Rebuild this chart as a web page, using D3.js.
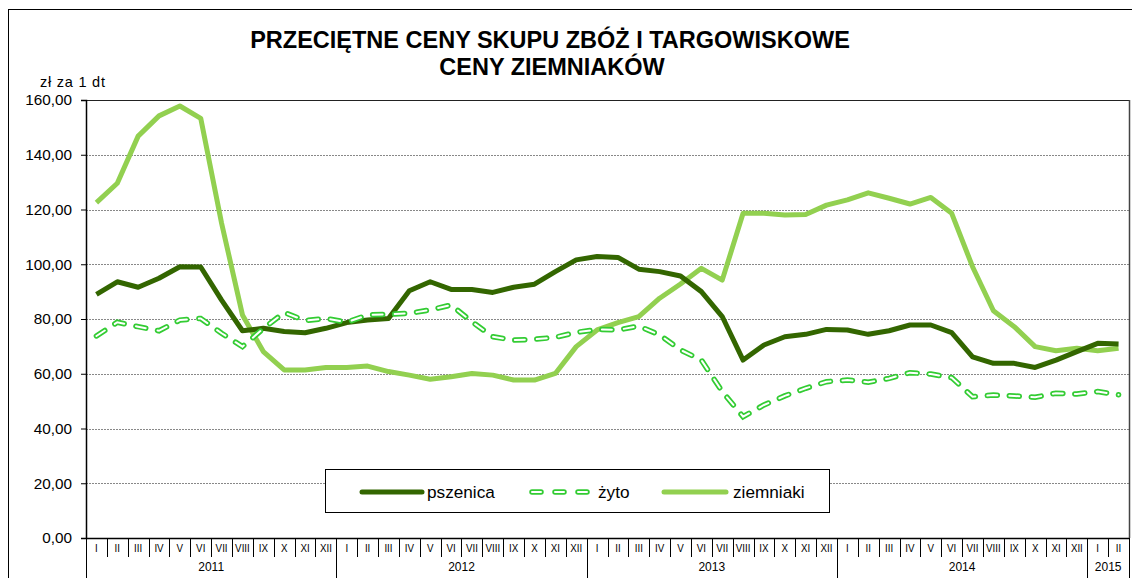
<!DOCTYPE html>
<html>
<head>
<meta charset="utf-8">
<script src="https://cdn.jsdelivr.net/npm/d3@7"></script>
<style>
  body { margin: 0; background: #fff; }
  text { font-family: "Liberation Sans", Arial, sans-serif; }
</style>
</head>
<body>
<script>
// miesiące i lata
const miesiace = ["I","II","III","IV","V","VI","VII","VIII","IX","X","XI","XII"];
const lata = [
  { rok: "2011", n: 12 },
  { rok: "2012", n: 12 },
  { rok: "2013", n: 12 },
  { rok: "2014", n: 12 },
  { rok: "2015", n: 2 }
];
const etykiety = lata.flatMap(l => miesiace.slice(0, l.n));

// ceny w zł za 1 dt
const pszenica = [
  89.0, 93.6, 91.6, 94.9, 99.1, 99.0, 86.9, 75.7, 76.6, 75.4, 75.0, 76.6,
  78.7, 79.6, 80.2, 90.3, 93.6, 90.8, 90.8, 89.7, 91.6, 92.7, 97.3, 101.6,
  102.8, 102.5, 98.2, 97.3, 95.7, 90.0, 80.9, 65.0, 70.5, 73.5, 74.4, 76.2,
  76.0, 74.4, 75.7, 77.8, 77.8, 75.0, 66.2, 63.8, 63.8, 62.3, 65.0, 68.1,
  71.1, 70.9
];
const zyto = [
  73.8, 78.8, 77.2, 75.7, 79.6, 80.2, 74.8, 69.9, 76.5, 82.4, 79.4, 80.2,
  78.8, 81.5, 81.7, 82.1, 83.3, 85.1, 79.0, 73.5, 72.3, 72.6, 73.3, 75.1,
  76.2, 76.0, 77.4, 74.2, 68.7, 65.0, 53.5, 44.3, 48.6, 51.9, 54.7, 57.1,
  57.7, 56.9, 58.3, 60.4, 59.9, 58.6, 51.6, 52.2, 51.9, 51.4, 52.9, 52.6,
  53.5, 52.3
];
const ziemniaki = [
  122.5, 129.6, 146.8, 154.2, 157.8, 153.3, 115.0, 81.5, 68.1, 61.4, 61.4, 62.3,
  62.3, 62.8, 60.8, 59.5, 58.0, 58.9, 60.1, 59.5, 57.7, 57.7, 60.1, 69.9,
  76.0, 78.7, 80.9, 87.6, 92.8, 98.5, 94.2, 118.6, 118.6, 118.0, 118.2, 121.6,
  123.5, 126.1, 124.1, 122.0, 124.4, 118.6, 99.1, 83.0, 77.2, 69.9, 68.4, 69.3,
  68.4, 69.3
];
const yTicks = [0, 20, 40, 60, 80, 100, 120, 140, 160];

const W = 1132, H = 578;
const m = { left: 86, right: 1129, top: 100, bottom: 538 };

const kolPszenica = "#336600";
const kolZyto = "#33cc33";
const kolZiemniaki = "#92d050";

const svg = d3.select("body").append("svg")
  .attr("width", W).attr("height", H);

// ramka całego wykresu
svg.append("rect")
  .attr("x", 8.5).attr("y", 9.5)
  .attr("width", 1140).attr("height", 600)
  .attr("fill", "none").attr("stroke", "#000").attr("stroke-width", 1);

const x = d3.scaleBand().domain(d3.range(etykiety.length)).range([m.left, m.right]);
const y = d3.scaleLinear().domain([0, 160]).range([m.bottom, m.top]);
const cx = i => x(i) + x.bandwidth() / 2;

// tytuł
svg.append("text")
  .attr("x", 550).attr("y", 48).attr("text-anchor", "middle")
  .attr("font-size", 23.5).attr("font-weight", "bold")
  .text("PRZECIĘTNE CENY SKUPU ZBÓŻ I TARGOWISKOWE");
svg.append("text")
  .attr("x", 552).attr("y", 75).attr("text-anchor", "middle")
  .attr("font-size", 23.5).attr("font-weight", "bold")
  .text("CENY ZIEMNIAKÓW");

svg.append("text")
  .attr("x", 40).attr("y", 87)
  .attr("font-size", 14.5)
  .attr("textLength", 65).attr("lengthAdjust", "spacing")
  .text("zł za 1 dt");

// siatka
svg.append("g")
  .selectAll("line")
  .data(yTicks.filter(d => d > 0 && d < 160))
  .join("line")
  .attr("x1", m.left).attr("x2", m.right)
  .attr("y1", d => Math.round(y(d)) + 0.5).attr("y2", d => Math.round(y(d)) + 0.5)
  .attr("stroke", "#888").attr("stroke-dasharray", "2,1");

// ramka obszaru wykresu
svg.append("line")
  .attr("x1", m.left).attr("x2", m.right).attr("y1", m.top + 0.5).attr("y2", m.top + 0.5)
  .attr("stroke", "#222");
svg.append("line")
  .attr("x1", m.right + 0.5).attr("x2", m.right + 0.5).attr("y1", m.top).attr("y2", m.bottom)
  .attr("stroke", "#444").attr("stroke-width", 1.5);

// oś Y
const osY = svg.append("g")
  .attr("transform", `translate(${m.left},0)`)
  .call(d3.axisLeft(y).tickValues(yTicks).tickSize(5).tickPadding(9)
    .tickFormat(d => d3.format(".2f")(d).replace(".", ",")));
osY.select(".domain").attr("stroke", "#000").attr("stroke-width", 1.5);
osY.selectAll("text").attr("font-size", 15.3).attr("font-family", "Liberation Sans, Arial, sans-serif").attr("fill", "#000");

// oś X
svg.append("line")
  .attr("x1", m.left).attr("x2", m.right).attr("y1", m.bottom + 0.5).attr("y2", m.bottom + 0.5)
  .attr("stroke", "#000").attr("stroke-width", 1.5);

const xg = svg.append("g");
xg.selectAll("line.m")
  .data(d3.range(etykiety.length + 1))
  .join("line")
  .attr("class", "m")
  .attr("x1", i => Math.round(m.left + i * x.step()) + 0.5)
  .attr("x2", i => Math.round(m.left + i * x.step()) + 0.5)
  .attr("y1", m.bottom)
  .attr("y2", 557)
  .attr("stroke", "#000");

xg.selectAll("text.m")
  .data(etykiety)
  .join("text")
  .attr("class", "m")
  .attr("transform", (d, i) => `translate(${cx(i)},552) scale(0.85,1)`)
  .attr("text-anchor", "middle")
  .attr("font-size", 11.5)
  .text(d => d);

// granice lat
let start = 0;
const granice = [0];
const srodki = [];
lata.forEach(l => {
  srodki.push({ rok: l.rok, s: start + l.n / 2 });
  start += l.n;
  granice.push(start);
});
xg.selectAll("line.r")
  .data(granice)
  .join("line")
  .attr("class", "r")
  .attr("x1", i => Math.round(m.left + i * x.step()) + 0.5)
  .attr("x2", i => Math.round(m.left + i * x.step()) + 0.5)
  .attr("y1", 557).attr("y2", 578)
  .attr("stroke", "#000");
xg.selectAll("text.r")
  .data(srodki)
  .join("text")
  .attr("class", "r")
  .attr("x", d => m.left + d.s * x.step())
  .attr("y", 571)
  .attr("text-anchor", "middle")
  .attr("font-size", 12)
  .text(d => d.rok);

// linie
const linia = d3.line().x((d, i) => cx(i)).y(d => y(d));

svg.append("path").datum(ziemniaki)
  .attr("d", linia).attr("fill", "none")
  .attr("stroke", kolZiemniaki).attr("stroke-width", 5).attr("stroke-linejoin", "round");

svg.append("path").datum(pszenica)
  .attr("d", linia).attr("fill", "none")
  .attr("stroke", kolPszenica).attr("stroke-width", 5).attr("stroke-linejoin", "round");

// żyto – podwójna linia przerywana
svg.append("path").datum(zyto)
  .attr("d", linia).attr("fill", "none")
  .attr("stroke", kolZyto).attr("stroke-width", 5.5)
  .attr("stroke-dasharray", "10,12").attr("stroke-linecap", "round");
svg.append("path").datum(zyto)
  .attr("d", linia).attr("fill", "none")
  .attr("stroke", "#fff").attr("stroke-width", 2)
  .attr("stroke-dasharray", "10,12").attr("stroke-linecap", "round");

// legenda
const leg = svg.append("g");
leg.append("rect")
  .attr("x", 325.5).attr("y", 469.5).attr("width", 504).attr("height", 43)
  .attr("fill", "#fff").attr("stroke", "#000");

const legY = 492;
leg.append("line").attr("x1", 362).attr("x2", 422).attr("y1", legY).attr("y2", legY)
  .attr("stroke", kolPszenica).attr("stroke-width", 5).attr("stroke-linecap", "round");
leg.append("line").attr("x1", 532).attr("x2", 588).attr("y1", legY).attr("y2", legY)
  .attr("stroke", kolZyto).attr("stroke-width", 5.5)
  .attr("stroke-dasharray", "9,14").attr("stroke-linecap", "round");
leg.append("line").attr("x1", 532).attr("x2", 588).attr("y1", legY).attr("y2", legY)
  .attr("stroke", "#fff").attr("stroke-width", 2)
  .attr("stroke-dasharray", "9,14").attr("stroke-linecap", "round");
leg.append("line").attr("x1", 664).attr("x2", 726).attr("y1", legY).attr("y2", legY)
  .attr("stroke", kolZiemniaki).attr("stroke-width", 5).attr("stroke-linecap", "round");

[["pszenica", 427], ["żyto", 598], ["ziemniaki", 733]].forEach(([t, px]) => {
  leg.append("text").attr("x", px).attr("y", legY + 6)
    .attr("font-size", 17.2).text(t);
});
</script>
</body>
</html>
